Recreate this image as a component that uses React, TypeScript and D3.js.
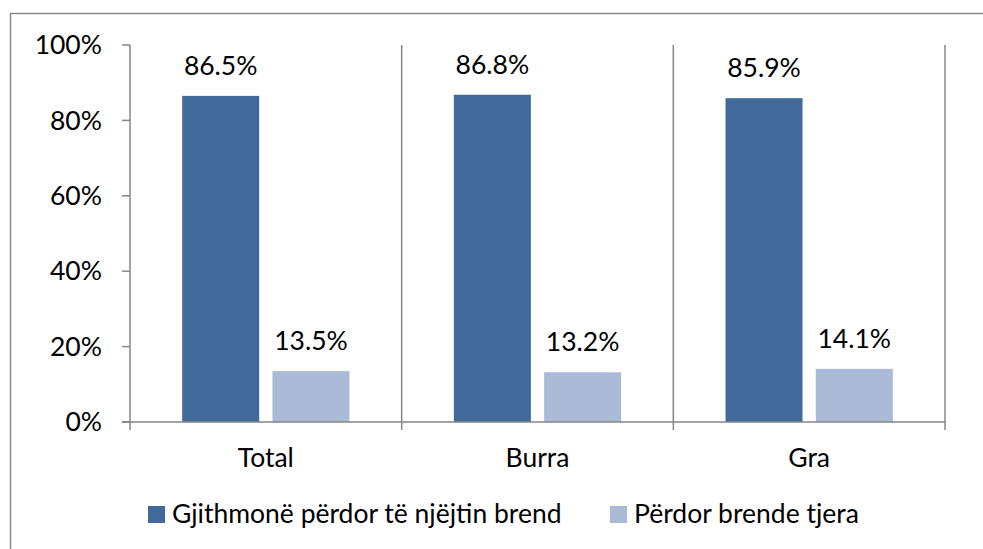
import React from "react";
import * as d3 from "d3";

const categories = ["Total", "Burra", "Gra"];
const seriesNames = ["Gjithmonë përdor të njëjtin brend", "Përdor brende tjera"];
const seriesAlways = [86.5, 86.8, 85.9];
const seriesOther = [13.5, 13.2, 14.1];
const yTicks = [0, 20, 40, 60, 80, 100];
const colors = ["#416A9B", "#AABAD7"];

const W = 983;
const H = 549;
const FONT = "Lato, 'Open Sans', sans-serif";
const FS = 26.5;

export default function App() {
  const left = 130;
  const right = 945;
  const top = 45;
  const bottom = 422;
  const x0 = d3.scaleBand<string>().domain(categories).range([left, right]).padding(0);
  const x1 = d3
    .scaleBand<string>()
    .domain(seriesNames)
    .range([0, x0.bandwidth()])
    .paddingInner(0.147)
    .paddingOuter(0.578);
  const y = d3.scaleLinear().domain([0, 100]).range([bottom, top]);
  const values = [seriesAlways, seriesOther];
  const axisColor = "#868686";
  const separators = categories.map((c) => (x0(c) as number) + x0.bandwidth());

  return (
    <svg width={W} height={H} style={{ position: "absolute", left: 0, top: 0, background: "#fff" }}>
      <rect x={10.5} y={13.5} width={W + 20} height={H + 20} fill="none" stroke="#8c8c8c" strokeWidth={1.5} />
      {values.map((vals, si) =>
        categories.map((c, ci) => {
          const bx = (x0(c) as number) + (x1(seriesNames[si]) as number);
          const by = y(vals[ci]);
          return (
            <g key={`${si}-${ci}`}>
              <rect x={bx} y={by} width={x1.bandwidth()} height={bottom - by} fill={colors[si]} />
              <text
                x={bx + x1.bandwidth() / 2}
                y={by - 21}
                textAnchor="middle"
                fontFamily={FONT}
                fontSize={FS}
                fill="#000"
              >
                {vals[ci].toFixed(1)}%
              </text>
            </g>
          );
        })
      )}
      {/* y axis */}
      <line x1={left} x2={left} y1={top} y2={bottom + 8} stroke={axisColor} strokeWidth={1.5} />
      {yTicks.map((t) => (
        <g key={t}>
          <line x1={left - 8} x2={left} y1={y(t)} y2={y(t)} stroke={axisColor} strokeWidth={1.5} />
          <text
            x={102}
            y={y(t)}
            dy="0.35em"
            textAnchor="end"
            fontFamily={FONT}
            fontSize={FS}
            fill="#000"
          >
            {t}%
          </text>
        </g>
      ))}
      {/* x axis */}
      <line x1={left - 8} x2={right} y1={bottom} y2={bottom} stroke={axisColor} strokeWidth={1.5} />
      {separators.map((sx, i) => (
        <line key={i} x1={sx} x2={sx} y1={top} y2={bottom + 8} stroke={axisColor} strokeWidth={1.5} />
      ))}
      {categories.map((c) => (
        <text
          key={c}
          x={(x0(c) as number) + x0.bandwidth() / 2}
          y={467}
          textAnchor="middle"
          fontFamily={FONT}
          fontSize={FS}
          fill="#000"
        >
          {c}
        </text>
      ))}
      {/* legend */}
      {seriesNames.map((s, i) => {
        const lx = i === 0 ? 148 : 610;
        return (
          <g key={s}>
            <rect x={lx} y={506} width={17} height={17} fill={colors[i]} />
            <text x={lx + 24} y={523} fontFamily={FONT} fontSize={FS} fill="#000">
              {s}
            </text>
          </g>
        );
      })}
    </svg>
  );
}
